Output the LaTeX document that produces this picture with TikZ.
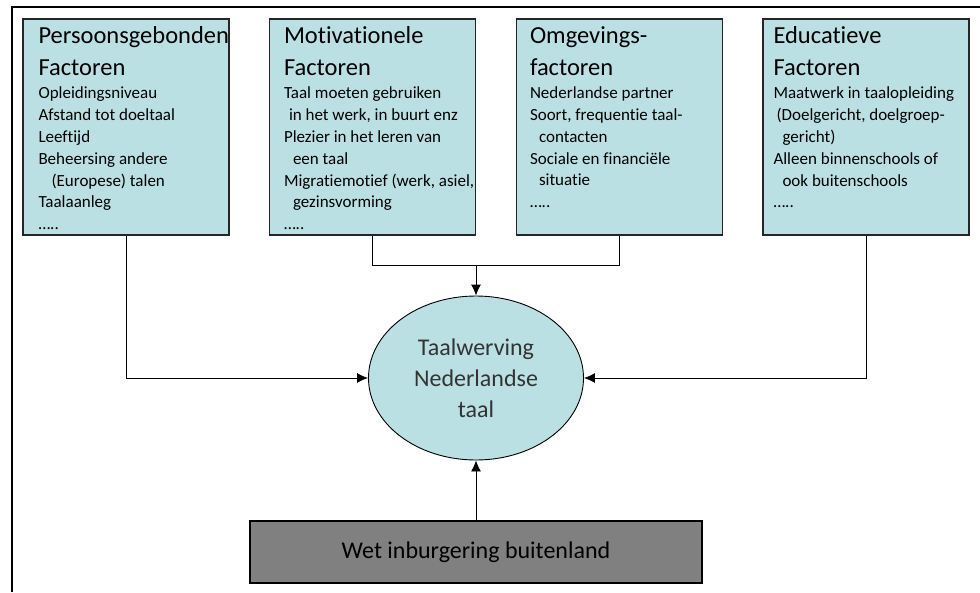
\documentclass[tikz,border=0pt]{standalone}
\usepackage{fontspec}
\setmainfont{Carlito}[Ligatures={NoCommon}]
\usetikzlibrary{positioning,calc,shapes.geometric,arrows.meta}

\definecolor{factorfill}{HTML}{BBE0E3}
\definecolor{wetfill}{HTML}{808080}

\tikzset{
  factor/.style={draw=black!85,line width=1.4pt,fill=factorfill,minimum width=206pt,minimum height=216pt,inner sep=0pt},
  factortitle/.style={anchor=north west,align=left,inner sep=0pt,font=\fontsize{24.5}{32}\selectfont},
  factorbody/.style={anchor=north west,align=left,inner sep=0pt,font=\fontsize{17}{21.8}\selectfont},
  link/.style={line width=0.9pt},
  linkarrow/.style={line width=0.9pt,-{Latex[length=11pt,width=10pt]}}
}

\begin{document}
\begin{tikzpicture}[x=1pt,y=-1pt]
      \useasboundingbox (0,0) rectangle (980,592);
      \draw[line width=2.5pt] (12,592) -- (12,7) -- (980,7);
      % factor boxes
      \node[factor] (pers) at (126,127) {};
      \node[factor] (moti) at (372.5,127) {};
      \node[factor] (omge) at (619.5,127) {};
      \node[factor] (educ) at (866,127) {};
      \node[factortitle] (perstitle) at ($(pers.north west)+(16,8)$) {Persoonsgebonden\\Factoren};
      \node[factortitle] (motititle) at ($(moti.north west)+(15,8)$) {Motivationele\\Factoren};
      \node[factortitle] (omgetitle) at ($(omge.north west)+(14,8)$) {Omgevings-\\factoren};
      \node[factortitle] (eductitle) at ($(educ.north west)+(11,8)$) {Educatieve\\Factoren};
      \node[factorbody] (persbody) at ($(perstitle.south west)+(0,11)$)
        {Opleidingsniveau\\Afstand tot doeltaal\\Leeftijd\\Beheersing andere\\
         \hspace*{13pt}(Europese) talen\\Taalaanleg\\…..};
      \node[factorbody] (motibody) at ($(motititle.south west)+(0,11)$)
        {Taal moeten gebruiken\\\hspace*{5pt}in het werk, in buurt enz\\Plezier in het leren van\\
         \hspace*{9pt}een taal\\Migratiemotief (werk, asiel,\\\hspace*{9pt}gezinsvorming\\…..};
      \node[factorbody] (omgebody) at ($(omgetitle.south west)+(0,11)$)
        {Nederlandse partner\\Soort, frequentie taal-\\\hspace*{9pt}contacten\\
         Sociale en financiële\\\hspace*{9pt}situatie\\…..};
      \node[factorbody] (educbody) at ($(eductitle.south west)+(0,11)$)
        {Maatwerk in taalopleiding\\\hspace*{3pt}(Doelgericht, doelgroep-\\\hspace*{9pt}gericht)\\
         Alleen binnenschools of\\\hspace*{9pt}ook buitenschools\\…..};
      % centre and law
      \node[ellipse,draw,line width=0.9pt,fill=factorfill,minimum width=215pt,minimum height=164pt,
            align=center,text=black!80,font=\fontsize{24}{31}\selectfont] (taal) at (476,378)
        {Taalwerving\\Nederlandse\\taal};
      \node[draw,line width=1.2pt,fill=wetfill,minimum width=452pt,minimum height=62pt,
            font=\fontsize{24}{28}\selectfont] (wet) at (476,552) {Wet inburgering buitenland};
      % connectors
      \draw[link] (moti.south) |- ($(moti.south)+(0,30)$) coordinate (join) -| (omge.south);
      \draw[linkarrow] (taal.north |- join) -- (taal.north);
      \draw[linkarrow] (pers.south) |- (taal.west);
      \draw[linkarrow] (educ.south) |- (taal.east);
      \draw[linkarrow] (wet.north) -- (taal.south);
    \end{tikzpicture}
\end{document}
